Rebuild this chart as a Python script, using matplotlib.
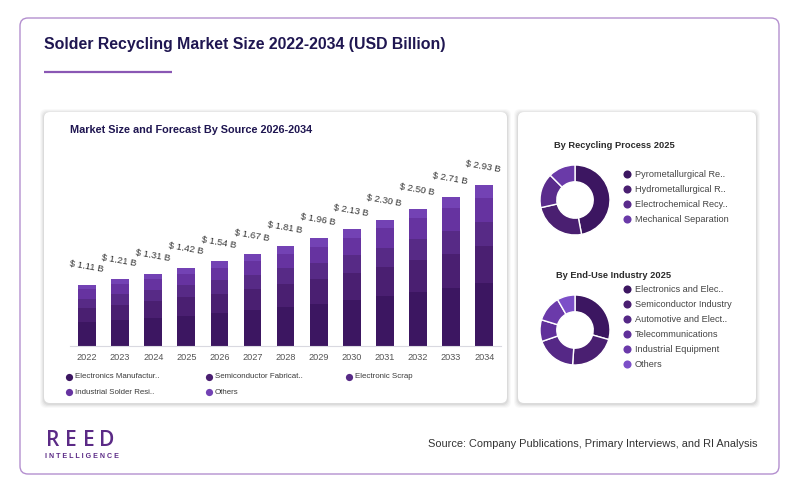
import matplotlib
matplotlib.use("Agg")
import matplotlib.pyplot as plt
from matplotlib.patches import FancyBboxPatch
import numpy as np

plt.rcParams['font.family'] = ['Liberation Sans', 'DejaVu Sans']

# ---------------- data ----------------
years = ['2022', '2023', '2024', '2025', '2026', '2027', '2028', '2029', '2030', '2031', '2032', '2033', '2034']
totals = [1.11, 1.21, 1.31, 1.42, 1.54, 1.67, 1.81, 1.96, 2.13, 2.30, 2.50, 2.71, 2.93]
electronics_mfg = [0.43, 0.47, 0.51, 0.55, 0.60, 0.65, 0.71, 0.76, 0.83, 0.90, 0.98, 1.06, 1.14]
semiconductor_fab = [0.26, 0.28, 0.30, 0.33, 0.35, 0.38, 0.42, 0.45, 0.49, 0.53, 0.58, 0.62, 0.67]
electronic_scrap = [0.17, 0.19, 0.20, 0.22, 0.24, 0.26, 0.28, 0.30, 0.33, 0.36, 0.39, 0.42, 0.45]
industrial_solder = [0.17, 0.18, 0.20, 0.21, 0.23, 0.25, 0.27, 0.29, 0.32, 0.35, 0.38, 0.41, 0.44]
others_src = [0.08, 0.09, 0.10, 0.11, 0.12, 0.13, 0.13, 0.16, 0.16, 0.16, 0.17, 0.20, 0.23]
source_labels = ['Electronics Manufactur..', 'Semiconductor Fabricat..', 'Electronic Scrap',
                 'Industrial Solder Resi..', 'Others']

process_labels = ['Pyrometallurgical Re..', 'Hydrometallurgical R..', 'Electrochemical Recy..',
                  'Mechanical Separation']
process_values = [47.0, 24.5, 16.0, 12.5]

enduse_labels = ['Electronics and Elec..', 'Semiconductor Industry', 'Automotive and Elect..',
                 'Telecommunications', 'Industrial Equipment', 'Others']
enduse_values = [29.4, 21.7, 18.6, 10.0, 12.0, 8.3]

# ---------------- styles ----------------
bar_colors = ['#3c1661', '#4a1f71', '#572a86', '#6633a0', '#7342b4']
proc_colors = ['#3c1661', '#4a1f71', '#5a2b8c', '#6a3aa8']
end_colors = ['#3c1661', '#4a1f71', '#552886', '#60309a', '#6b3aaa', '#7c4fc8']
navy = '#1f1651'
logo_col = '#5b2a86'

W, H = 800, 493
fig = plt.figure(figsize=(W / 100, H / 100), dpi=100)
fig.patch.set_facecolor('white')

def px_axes(x0, y0, x1, y1, **kw):
    """axes from pixel box (top-left origin)"""
    return fig.add_axes([x0 / W, 1 - y1 / H, (x1 - x0) / W, (y1 - y0) / H], **kw)

# background canvas in pixel units
bg = px_axes(0, 0, W, H)
bg.set_xlim(0, W)
bg.set_ylim(H, 0)
bg.axis('off')

bg.add_patch(FancyBboxPatch((20, 18), 759, 456, boxstyle='round,pad=0,rounding_size=8',
                            facecolor='white', edgecolor='#b48fcf', linewidth=1.0))
# cards with soft shadow
for (x0, y0, x1, y1) in [(44, 112, 507, 403), (518, 112, 756, 403)]:
    for k, a in [(4, 0.025), (3, 0.03), (2, 0.04), (1, 0.05)]:
        bg.add_patch(FancyBboxPatch((x0 - k, y0 - k + 1), x1 - x0 + 2 * k, y1 - y0 + 2 * k,
                                    boxstyle='round,pad=0,rounding_size=6',
                                    facecolor='black', edgecolor='none', alpha=a))
    bg.add_patch(FancyBboxPatch((x0, y0), x1 - x0, y1 - y0, boxstyle='round,pad=0,rounding_size=6',
                                facecolor='white', edgecolor='none'))

bg.text(44, 45, 'Solder Recycling Market Size 2022-2034 (USD Billion)', fontsize=11.4,
        fontweight='bold', color=navy, va='center', ha='left')
bg.plot([44, 172], [71.5, 71.5], color='#8a57b4', linewidth=1.6, solid_capstyle='butt')

bg.text(70, 130, 'Market Size and Forecast By Source 2026-2034', fontsize=7.8,
        fontweight='bold', color=navy, va='center', ha='left')

# footer logo
for ch, cx in zip('REED', [52.5, 71, 89, 106.5]):
    bg.text(cx, 441, ch, fontsize=15, color=logo_col, va='center', ha='center',
            fontfamily='Open Sans', fontweight=600)
bg.text(82, 456, ' '.join('INTELLIGENCE'), fontsize=5.1, color=logo_col, va='center',
        ha='center', fontweight='bold')
bg.text(758, 444, 'Source: Company Publications, Primary Interviews, and RI Analysis',
        fontsize=7.9, color='#333333', va='center', ha='right')

# ---------------- stacked bar chart ----------------
ax = px_axes(70, 150, 500.7, 345.7)
x = np.arange(len(years))
series = [electronics_mfg, semiconductor_fab, electronic_scrap, industrial_solder, others_src]
bottom = np.zeros(len(years))
for vals, col, lab in zip(series, bar_colors, source_labels):
    ax.bar(x, vals, width=0.535, bottom=bottom, color=col, label=lab, linewidth=0)
    bottom += np.array(vals)
ax.set_xlim(-0.514, 12.5)
ax.set_ylim(0, 3.57)
for s in ['top', 'right', 'left']:
    ax.spines[s].set_visible(False)
ax.spines['bottom'].set_color('#d9d9e0')
ax.set_yticks([])
ax.set_xticks(x)
ax.set_xticklabels(years, fontsize=6.6, color='#555555')
ax.tick_params(axis='x', length=0, pad=5)
ax.patch.set_alpha(0)
for xi, t in zip(x, totals):
    ax.annotate(f'$ {t:.2f} B', (xi, t), xytext=(-0.5, 13.5), textcoords='offset points',
                ha='center', va='center', rotation=-10, fontsize=6.8, color='#333333')

# legend for bars (manual grid)
leg_pos = [(69, 376.7), (209, 376.7), (349, 376.7), (69, 392), (209, 392)]
for (lx, ly), col, lab in zip(leg_pos, bar_colors, source_labels):
    bg.scatter([lx], [ly], s=27, color=col, marker='o', linewidths=0)
    bg.text(lx + 6, ly, lab, fontsize=5.7, color='#3a3a3a', va='center', ha='left')

# ---------------- donuts ----------------
def donut(cx, cy, vals, cols):
    r = 35
    a = px_axes(cx - 40, cy - 40, cx + 40, cy + 40)
    a.pie(vals, colors=cols, startangle=90, counterclock=False, radius=1,
          wedgeprops=dict(width=0.48, edgecolor='white', linewidth=1.0))
    a.set_xlim(-40 / r, 40 / r)
    a.set_ylim(-40 / r, 40 / r)
    a.set_aspect('equal')
    a.axis('off')

bg.text(554, 145.7, 'By Recycling Process 2025', fontsize=6.7, fontweight='bold',
        color='#2a2a2a', va='center', ha='left')
donut(575, 200, process_values, proc_colors)
for i, (lab, col) in enumerate(zip(process_labels, proc_colors)):
    ly = 174.3 + 15.0 * i
    bg.scatter([627], [ly], s=34, color=col, marker='o', linewidths=0)
    bg.text(635, ly, lab, fontsize=6.6, color='#444444', va='center', ha='left')

bg.text(556, 275.3, 'By End-Use Industry 2025', fontsize=6.7, fontweight='bold',
        color='#2a2a2a', va='center', ha='left')
donut(575, 330, enduse_values, end_colors)
for i, (lab, col) in enumerate(zip(enduse_labels, end_colors)):
    ly = 289.3 + 15.0 * i
    bg.scatter([627], [ly], s=34, color=col, marker='o', linewidths=0)
    bg.text(635, ly, lab, fontsize=6.6, color='#444444', va='center', ha='left')

fig.savefig('out.png', dpi=100, facecolor='white')
